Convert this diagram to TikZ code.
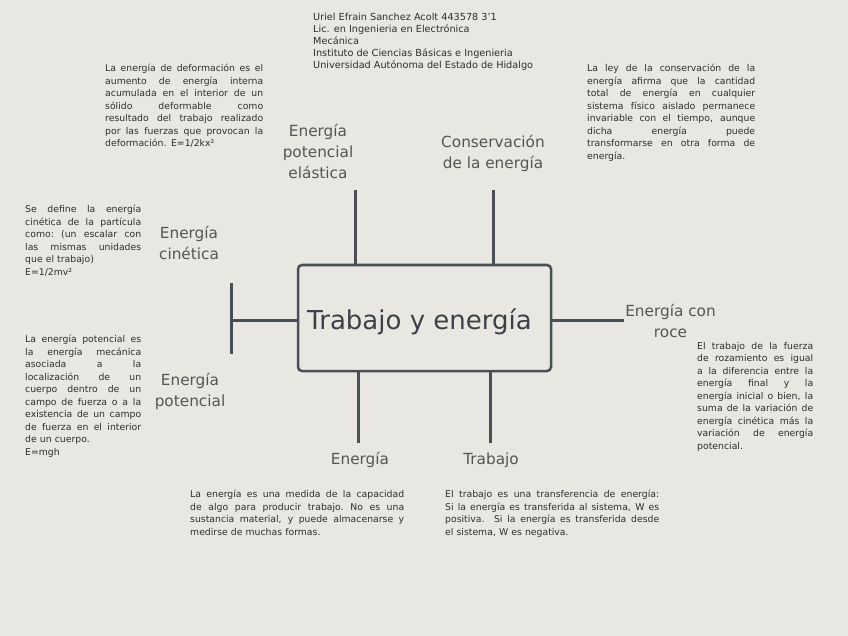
\documentclass[tikz,border=0pt]{standalone}
\usepackage{fontspec}
\setmainfont{DejaVu Sans}
\definecolor{bg}{HTML}{E9E7E1}
\definecolor{ln}{HTML}{4A4F56}
\definecolor{lblc}{HTML}{555555}
\definecolor{txt}{HTML}{2E2E2E}
\definecolor{ttl}{HTML}{3C4047}
\newlength\blkw
\newcommand\jl[1]{\makebox[\blkw][s]{\spaceskip=.318em plus 1fil\xspaceskip=.318em plus 1fil\relax #1}\\}
\newcommand\stt{\rule{0pt}{7pt}}
\tikzset{
  smalltxt/.style={anchor=north west, inner sep=0pt, align=left, text=txt, font=\fontsize{9.3}{12.5}\selectfont},
  blk/.style={smalltxt, text width=#1, execute at begin node={\setlength\blkw{#1}}},
  lbl/.style={align=center, text=lblc, font=\fontsize{15.3}{21}\selectfont, inner sep=0pt},
  conn/.style={draw=ln, line width=3pt},
  mainbox/.style={draw=ln, line width=2.5pt, rounded corners=4pt, minimum width=253pt, minimum height=106pt, inner sep=0pt, text=ttl, font=\fontsize{26}{30}\selectfont}
}
\begin{document}
\begin{tikzpicture}[x=1pt,y=-1pt]
\useasboundingbox[fill=bg] (0,0) rectangle (848,636);

% header
\node[smalltxt, font=\fontsize{9.7}{12}\selectfont] (hdr) at (313,13) {\stt Uriel Efrain Sanchez Acolt 443578 3'1\\Lic. en Ingenieria en Electrónica\\Mecánica\\Instituto de Ciencias Básicas e Ingenieria\\Universidad Autónoma del Estado de Hidalgo};

% central box
\node[mainbox] (main) at (424.5,318) {\raisebox{-4pt}[\height][\depth]{Trabajo y energía}\rule{10pt}{0pt}};

% labels
\node[lbl] (epe) at (318,151) {Energía\\potencial\\elástica};
\node[lbl] (ce) at (493,153) {Conservación\\de la energía};
\node[lbl] (ec) at (189,243) {Energía\\cinética};
\node[lbl] (ep) at (190,391.5) {Energía\\potencial};
\node[lbl] (ecr) at (670.5,320.5) {Energía con\\roce};
\node[lbl] (en) at (360,460) {Energía};
\node[lbl] (tr) at (491,460) {Trabajo};

% connector ends
\coordinate (t1) at (355,190);
\coordinate (t2) at (493,190);
\coordinate (b1) at (358,443);
\coordinate (b2) at (490,443);
\coordinate (lj) at (231,320);
\coordinate (ltop) at (231,283);
\coordinate (lbot) at (231,354);
\coordinate (rj) at (624,320);

\draw[conn] (t1) -- (t1 |- main.north);
\draw[conn] (t2) -- (t2 |- main.north);
\draw[conn] (b1) -- (b1 |- main.south);
\draw[conn] (b2) -- (b2 |- main.south);
\draw[conn] (main.west |- lj) -- (lj);
\draw[conn] (ltop) -- (lbot);
\draw[conn] (main.east |- rj) -- (rj);

% description texts
\node[blk=158pt] (dtl) at (105,64) {%
\jl{\stt La energía de deformación es el}%
\jl{aumento de energía interna}%
\jl{acumulada en el interior de un}%
\jl{sólido deformable como}%
\jl{resultado del trabajo realizado}%
\jl{por las fuerzas que provocan la}%
deformación. E=1/2kx²};

\node[blk=168pt] (dtr) at (587,64) {%
\jl{\stt La ley de la conservación de la}%
\jl{energía afirma que la cantidad}%
\jl{total de energía en cualquier}%
\jl{sistema físico aislado permanece}%
\jl{invariable con el tiempo, aunque}%
\jl{dicha energía puede}%
\jl{transformarse en otra forma de}%
energía.};

\node[blk=116pt] (dlm) at (25,205) {%
\jl{\stt Se define la energía}%
\jl{cinética de la partícula}%
\jl{como: (un escalar con}%
\jl{las mismas unidades}%
que el trabajo)\\
E=1/2mv²};

\node[blk=116pt] (dll) at (25,335) {%
\jl{\stt La energía potencial es}%
\jl{la energía mecánica}%
\jl{asociada a la}%
\jl{localización de un}%
\jl{cuerpo dentro de un}%
\jl{campo de fuerza o a la}%
\jl{existencia de un campo}%
\jl{de fuerza en el interior}%
de un cuerpo.\\
E=mgh};

\node[blk=116pt] (drl) at (697,342) {%
\jl{\stt El trabajo de la fuerza}%
\jl{de rozamiento es igual}%
\jl{a la diferencia entre la}%
\jl{energía final y la}%
\jl{energía inicial o bien, la}%
\jl{suma de la variación de}%
\jl{energía cinética más la}%
\jl{variación de energía}%
potencial.};

\node[blk=214pt] (dbl) at (190,490) {%
\jl{\stt La energía es una medida de la capacidad}%
\jl{de algo para producir trabajo. No es una}%
\jl{sustancia material, y puede almacenarse y}%
medirse de muchas formas.};

\node[blk=214pt] (dbr) at (445,490) {%
\jl{\stt El trabajo es una transferencia de energía:}%
\jl{Si la energía es transferida al sistema, W es}%
\jl{positiva.\ \ Si la energía es transferida desde}%
el sistema, W es negativa.};
\end{tikzpicture}
\end{document}
